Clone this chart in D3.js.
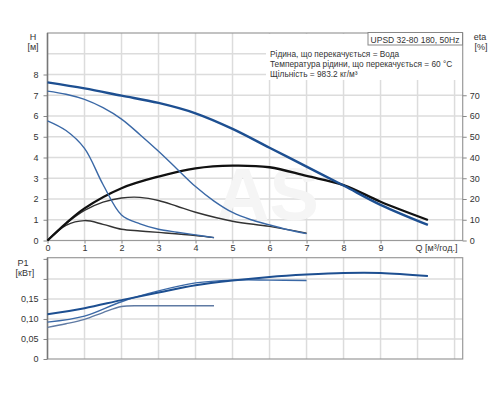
<!DOCTYPE html>
<html lang="uk">
<head>
<meta charset="utf-8">
<title>UPSD 32-80 180</title>
<script src="https://cdn.jsdelivr.net/npm/d3@7/dist/d3.min.js"></script>
<style>
  body, html { margin:0; padding:0; background:#fff; }
  svg { font-family: Arial, "Liberation Sans", sans-serif; }
  .grid line { stroke:#dcdcdc; stroke-width:1.5; }
  .lbl { font-size:9px; fill:#333; }
</style>
</head>
<body>
<svg id="chart" width="500" height="400"></svg>
<script>
// --- data ---
var qBig   = [0, 1, 2, 3, 4, 5, 6, 7, 8, 9, 10.28];
var hBig   = [7.62, 7.33, 6.98, 6.63, 6.13, 5.38, 4.47, 3.56, 2.65, 1.72, 0.75];
var qMid   = [0, 0.5, 1, 1.5, 2, 2.5, 3, 3.5, 4, 4.5, 5, 5.5, 6, 6.5, 7];
var hMid   = [7.2, 7.05, 6.8, 6.4, 5.85, 5.1, 4.3, 3.45, 2.6, 1.9, 1.35, 1.0, 0.75, 0.52, 0.33];
var qSmall = [0, 0.5, 1, 1.5, 2, 2.5, 3, 3.5, 4, 4.5];
var hSmall = [5.77, 5.3, 4.44, 2.7, 1.23, 0.8, 0.54, 0.4, 0.27, 0.14];

var qEtaBig   = [0, 0.5, 1, 2, 3, 4, 5, 6, 7, 8, 9, 10.28];
var etaBig    = [0, 8.3, 15.5, 25.2, 30.8, 34.8, 36.1, 35.3, 31.1, 26.7, 18.7, 9.9];
var qEtaMid   = [0, 0.5, 1, 1.5, 2, 2.5, 3, 3.5, 4, 5, 6, 7];
var etaMid    = [0, 8.1, 14.5, 18.5, 20.5, 20.8, 19.3, 16.5, 13.6, 9.3, 6.8, 3.5];
var qEtaSmall = [0, 0.5, 1, 1.5, 2, 2.5, 3, 4, 4.5];
var etaSmall  = [0, 7.3, 9.6, 7.8, 5.4, 4.6, 3.9, 2.4, 1.4];

var qP1Big   = [0, 1, 2, 3, 4, 5, 6, 7, 8, 9, 10.28];
var p1Big    = [0.112, 0.127, 0.147, 0.166, 0.184, 0.196, 0.205, 0.211, 0.215, 0.215, 0.207];
var qP1Mid   = [0, 1, 2, 3, 4, 5, 6, 7];
var p1Mid    = [0.092, 0.107, 0.143, 0.170, 0.190, 0.197, 0.197, 0.196];
var qP1Small = [0, 0.5, 1, 1.5, 2, 2.5, 3, 4, 4.5];
var p1Small  = [0.079, 0.088, 0.099, 0.116, 0.131, 0.133, 0.133, 0.133, 0.133];

var qTicks   = [0, 1, 2, 3, 4, 5, 6, 7, 8, 9];
var hTicks   = [0, 1, 2, 3, 4, 5, 6, 7, 8];
var etaTicks = [0, 10, 20, 30, 40, 50, 60, 70];
var pTicks   = [0, 0.05, 0.10, 0.15, 0.20, 0.25];
var pLabels  = ['0', '0,05', '0,10', '0,15', '', ''];

var infoLines = ['Рідина, що перекачується = Вода',
                 'Температура рідини, що перекачується = 60 °C',
                 'Щільність = 983.2 кг/м³'];

// --- scales ---
var svg = d3.select('#chart');
var x  = d3.scaleLinear().domain([0, 11.22]).range([47.5, 462.7]);
var yH = d3.scaleLinear().domain([0, 10]).range([240.5, 33]);
var yE = d3.scaleLinear().domain([0, 100]).range([240.5, 33]);
var yP = d3.scaleLinear().domain([0, 0.253]).range([359, 257.7]);

var blueDark = '#1d4f91', blue = '#3a68a6';

function zip(a, b) { return a.map(function(v, i) { return [v, b[i]]; }); }

// grids
function grid(y, yTickVals, top, bottom) {
  var g = svg.append('g').attr('class', 'grid');
  g.selectAll('.v').data(d3.range(1, 12)).enter().append('line')
    .attr('x1', x).attr('x2', x).attr('y1', top).attr('y2', bottom);
  g.selectAll('.h').data(yTickVals).enter().append('line')
    .attr('x1', x(0)).attr('x2', x(11.22)).attr('y1', y).attr('y2', y);
}
grid(yH, [1, 2, 3, 4, 5, 6, 7, 8, 9], 33, 240.5);
grid(yP, [0.05, 0.10, 0.15, 0.20], 257.7, 359);

// watermark
svg.append('text').attr('x', 216).attr('y', 220).text('AS')
  .style('font-size', '74px').style('font-weight', 'bold').style('fill', '#f5f5f5');

// plot borders
svg.append('rect').attr('x', x(0)).attr('y', 33).attr('width', x(11.22) - x(0)).attr('height', 240.5 - 33)
  .attr('fill', 'none').attr('stroke', '#9a9a9a').attr('stroke-width', 1.2);
svg.append('rect').attr('x', x(0)).attr('y', 257.7).attr('width', x(11.22) - x(0)).attr('height', 359 - 257.7)
  .attr('fill', 'none').attr('stroke', '#9a9a9a').attr('stroke-width', 1.2);

// info box
svg.append('rect').attr('x', 266).attr('y', 34).attr('width', 196).attr('height', 46).attr('fill', '#fff');
svg.append('rect').attr('x', 368).attr('y', 32.5).attr('width', 94.5).attr('height', 12.5)
  .attr('fill', '#fff').attr('stroke', '#888').attr('stroke-width', 1);
svg.append('text').attr('class', 'lbl').attr('x', 415).attr('y', 42.5).attr('text-anchor', 'middle')
  .style('font-size', '8.5px').text('UPSD 32-80 180, 50Hz');
svg.selectAll('.info').data(infoLines).enter().append('text').attr('class', 'lbl')
  .attr('x', 270).attr('y', function(d, i) { return 57 + i * 10.2; })
  .style('font-size', '8.3px').text(function(d) { return d; });

// axes
var gl = svg.append('g').attr('transform', 'translate(' + x(0) + ',0)')
  .call(d3.axisLeft(yH).tickValues(hTicks).tickSize(4).tickPadding(5));
var gr = svg.append('g').attr('transform', 'translate(' + x(11.22) + ',0)')
  .call(d3.axisRight(yE).tickValues(etaTicks).tickSize(4).tickPadding(3));
var gb = svg.append('g').attr('transform', 'translate(0,240.5)')
  .call(d3.axisBottom(x).tickValues(qTicks).tickSize(3).tickPadding(1));
var gp = svg.append('g').attr('transform', 'translate(' + x(0) + ',0)')
  .call(d3.axisLeft(yP).tickValues(pTicks).tickFormat(function(d, i) { return pLabels[i]; })
        .tickSize(4).tickPadding(5));
[gl, gr, gb, gp].forEach(function(g) {
  g.select('.domain').remove();
  g.selectAll('line').attr('stroke', '#888');
  g.selectAll('text').attr('fill', '#333').style('font-size', '9px')
    .style('font-family', 'Arial, "Liberation Sans", sans-serif');
});
svg.append('line').attr('x1', x(0)).attr('x2', x(0)).attr('y1', 33).attr('y2', 240.5)
  .attr('stroke', '#777').attr('stroke-width', 1.5);
svg.append('line').attr('x1', x(0)).attr('x2', x(0)).attr('y1', 257.7).attr('y2', 359)
  .attr('stroke', '#777').attr('stroke-width', 1.5);

// axis titles
function title(tx, ty, t, anchor) {
  svg.append('text').attr('class', 'lbl').attr('x', tx).attr('y', ty)
    .attr('text-anchor', anchor || 'middle').text(t);
}
title(33, 40, 'H'); title(33, 50, '[м]');
title(480, 40, 'eta'); title(481, 50, '[%]');
title(23, 266, 'P1'); title(25, 276, '[кВт]');
title(x(10) - 2, 251, 'Q [м³/год.]', 'start');

// curves
function curve(qs, vs, y, color, w) {
  svg.append('path').datum(zip(qs, vs))
    .attr('d', d3.line().x(function(d) { return x(d[0]); }).y(function(d) { return y(d[1]); })
      .curve(d3.curveCatmullRom.alpha(0.5)))
    .attr('fill', 'none').attr('stroke', color).attr('stroke-width', w);
}
curve(qEtaSmall, etaSmall, yE, '#333', 1.4);
curve(qEtaMid, etaMid, yE, '#333', 1.4);
curve(qEtaBig, etaBig, yE, '#111', 2.3);
curve(qSmall, hSmall, yH, blue, 1.4);
curve(qMid, hMid, yH, blue, 1.4);
curve(qBig, hBig, yH, blueDark, 2.4);

curve(qP1Small, p1Small, yP, '#5f7aa3', 1.4);
curve(qP1Mid, p1Mid, yP, blue, 1.4);
curve(qP1Big, p1Big, yP, blueDark, 2);
</script>
</body>
</html>
